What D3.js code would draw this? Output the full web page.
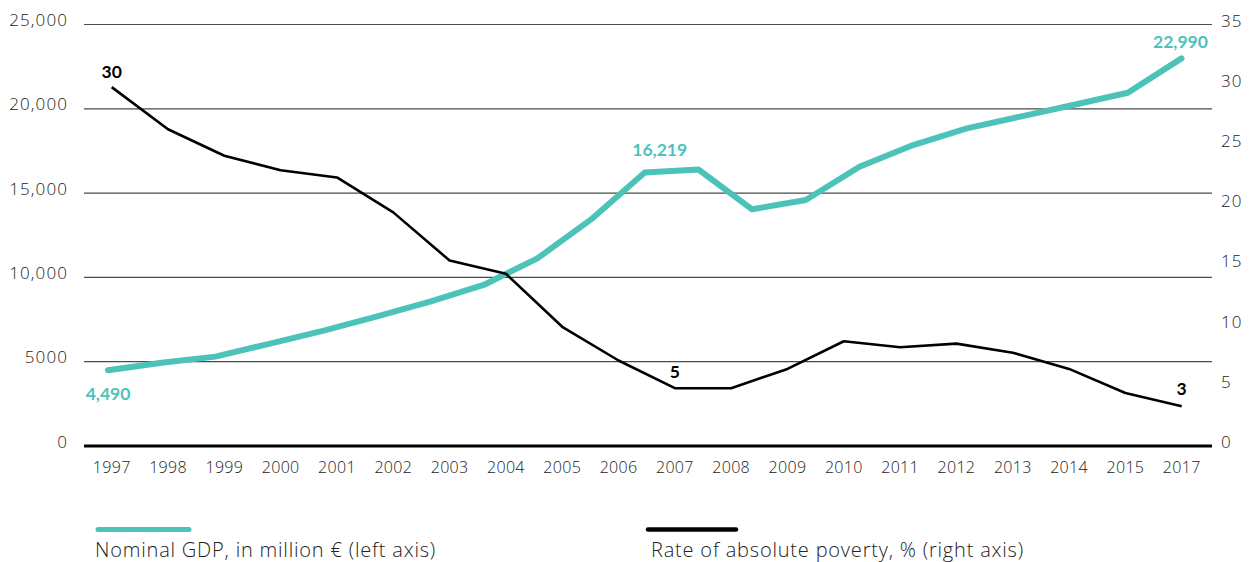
<!DOCTYPE html>
<html>
<head>
<meta charset="utf-8">
<script src="https://cdn.jsdelivr.net/npm/d3@7"></script>
<style>
  html, body { margin: 0; padding: 0; background: #fff; }
  svg { display: block; }
  text { font-family: "Open Sans", "Lato", sans-serif; }
  text.callout { font-family: "Lato", "Open Sans", sans-serif; }
</style>
</head>
<body>
<svg id="chart" width="1250" height="562"></svg>
<script>
// ---- data ----
const axisYears = ["1997","1998","1999","2000","2001","2002","2003","2004","2005","2006","2007","2008","2009","2010","2011","2012","2013","2014","2015","2017"];
const povertyRate = [29.8, 26.3, 24.1, 22.9, 22.3, 19.4, 15.4, 14.3, 9.9, 7.1, 4.8, 4.8, 6.4, 8.7, 8.2, 8.5, 7.75, 6.4, 4.4, 3.3];
const gdpYears = ["1997","1998","1999","2000","2001","2002","2003","2004","2005","2006","2007","2008","2009","2010","2011","2012","2013","2014","2015","2016","2017"];
const gdpValues = [4490, 4940, 5300, 6060, 6830, 7670, 8560, 9550, 11130, 13440, 16219, 16400, 14040, 14590, 16560, 17850, 18840, 19540, 20240, 20950, 22990];
const leftTicks = [0, 5000, 10000, 15000, 20000, 25000];
const leftTickLabels = ["0", "5000", "10,000", "15,000", "20,000", "25,000"];
const rightTicks = [0, 5, 10, 15, 20, 25, 30, 35];
const gdpCallouts = [{year: "1997", value: 4490, text: "4,490"}, {year: "2007", value: 16219, text: "16,219"}, {year: "2017", value: 22990, text: "22,990"}];
const povertyCallouts = [{year: "1997", text: "30"}, {year: "2007", text: "5"}, {year: "2017", text: "3"}];
const legendLabels = ["Nominal GDP, in million € (left axis)", "Rate of absolute poverty, % (right axis)"];

// ---- styles ----
const TEAL = "#4cc3b9";
const svg = d3.select("#chart");

const yL = d3.scaleLinear().domain([0, 25000]).range([446, 24.5]);
const yR = d3.scaleLinear().domain([0, 35]).range([446, 24.5]);
const xP = d3.scalePoint().domain(axisYears).range([111.7, 1181.7]);
const xG = d3.scalePoint().domain(gdpYears).range([108, 1181.5]);
const plotLeft = 84, plotRight = 1212;

// gridlines
svg.append("g").selectAll("line").data(leftTicks.filter(d => d > 0)).join("line")
  .attr("x1", plotLeft).attr("x2", plotRight)
  .attr("y1", d => yL(d)).attr("y2", d => yL(d))
  .attr("stroke", "#4a4a4a").attr("stroke-width", 1.2);

// baseline
svg.append("line").attr("x1", plotLeft).attr("x2", plotRight)
  .attr("y1", yL(0)).attr("y2", yL(0))
  .attr("stroke", "#000").attr("stroke-width", 3);

// left axis labels
svg.append("g").selectAll("text").data(leftTicks).join("text")
  .attr("x", 68).attr("y", d => yL(d) - 5)
  .attr("text-anchor", "end").attr("dominant-baseline", "central")
  .attr("font-size", 17).attr("font-weight", 300).attr("fill", "#222")
  .attr("letter-spacing", 1.1)
  .text((d, i) => leftTickLabels[i]);

// right axis labels
svg.append("g").selectAll("text").data(rightTicks).join("text")
  .attr("x", 1221).attr("y", d => yR(d) - 4.5)
  .attr("text-anchor", "start").attr("dominant-baseline", "central")
  .attr("font-size", 17).attr("font-weight", 300).attr("fill", "#222")
  .attr("letter-spacing", 1.1)
  .text(d => d);

// x axis labels
svg.append("g").selectAll("text").data(axisYears).join("text")
  .attr("x", d => xP(d)).attr("y", 467)
  .attr("text-anchor", "middle").attr("dominant-baseline", "central")
  .attr("font-size", 16).attr("font-weight", 300).attr("fill", "#222")
  .attr("letter-spacing", 0.3)
  .text(d => d);

// GDP line
svg.append("path")
  .datum(gdpYears.map((y, i) => [y, gdpValues[i]]))
  .attr("fill", "none").attr("stroke", TEAL).attr("stroke-width", 6)
  .attr("stroke-linecap", "round").attr("stroke-linejoin", "round")
  .attr("d", d3.line().x(d => xG(d[0])).y(d => yL(d[1])));

// poverty line
svg.append("path")
  .datum(axisYears.map((y, i) => [y, povertyRate[i]]))
  .attr("fill", "none").attr("stroke", "#000").attr("stroke-width", 2.6)
  .attr("stroke-linejoin", "round")
  .attr("d", d3.line().x(d => xP(d[0])).y(d => yR(d[1])));

// callouts
const gdpOffsets = {"1997": [0, 23], "2007": [15, -23], "2017": [-1, -17]};
svg.append("g").selectAll("text").data(gdpCallouts).join("text").attr("class", "callout")
  .attr("x", d => xG(d.year) + gdpOffsets[d.year][0])
  .attr("y", d => yL(d.value) + gdpOffsets[d.year][1])
  .attr("text-anchor", "middle").attr("dominant-baseline", "central")
  .attr("font-size", 17.5).attr("font-weight", 700).attr("fill", TEAL)
  .text(d => d.text);

const povOffsets = {"1997": [0, -15.5], "2007": [0, -17], "2017": [0, -18]};
svg.append("g").selectAll("text").data(povertyCallouts).join("text").attr("class", "callout")
  .attr("x", d => xP(d.year) + povOffsets[d.year][0])
  .attr("y", d => yR(povertyRate[axisYears.indexOf(d.year)]) + povOffsets[d.year][1])
  .attr("text-anchor", "middle").attr("dominant-baseline", "central")
  .attr("font-size", 17.5).attr("font-weight", 700).attr("fill", "#000")
  .text(d => d.text);

// legend
const legend = svg.append("g");
legend.append("line").attr("x1", 98).attr("x2", 189).attr("y1", 529.5).attr("y2", 529.5)
  .attr("stroke", TEAL).attr("stroke-width", 5).attr("stroke-linecap", "round");
legend.append("line").attr("x1", 648).attr("x2", 736).attr("y1", 529.5).attr("y2", 529.5)
  .attr("stroke", "#000").attr("stroke-width", 4.5).attr("stroke-linecap", "round");
legend.selectAll("text.lg").data(legendLabels).join("text").attr("class", "lg")
  .attr("x", (d, i) => i === 0 ? 95 : 651)
  .attr("y", 556.5)
  .attr("font-size", 20).attr("font-weight", 300).attr("fill", "#222")
  .attr("letter-spacing", 0.8)
  .text(d => d);
</script>
</body>
</html>
